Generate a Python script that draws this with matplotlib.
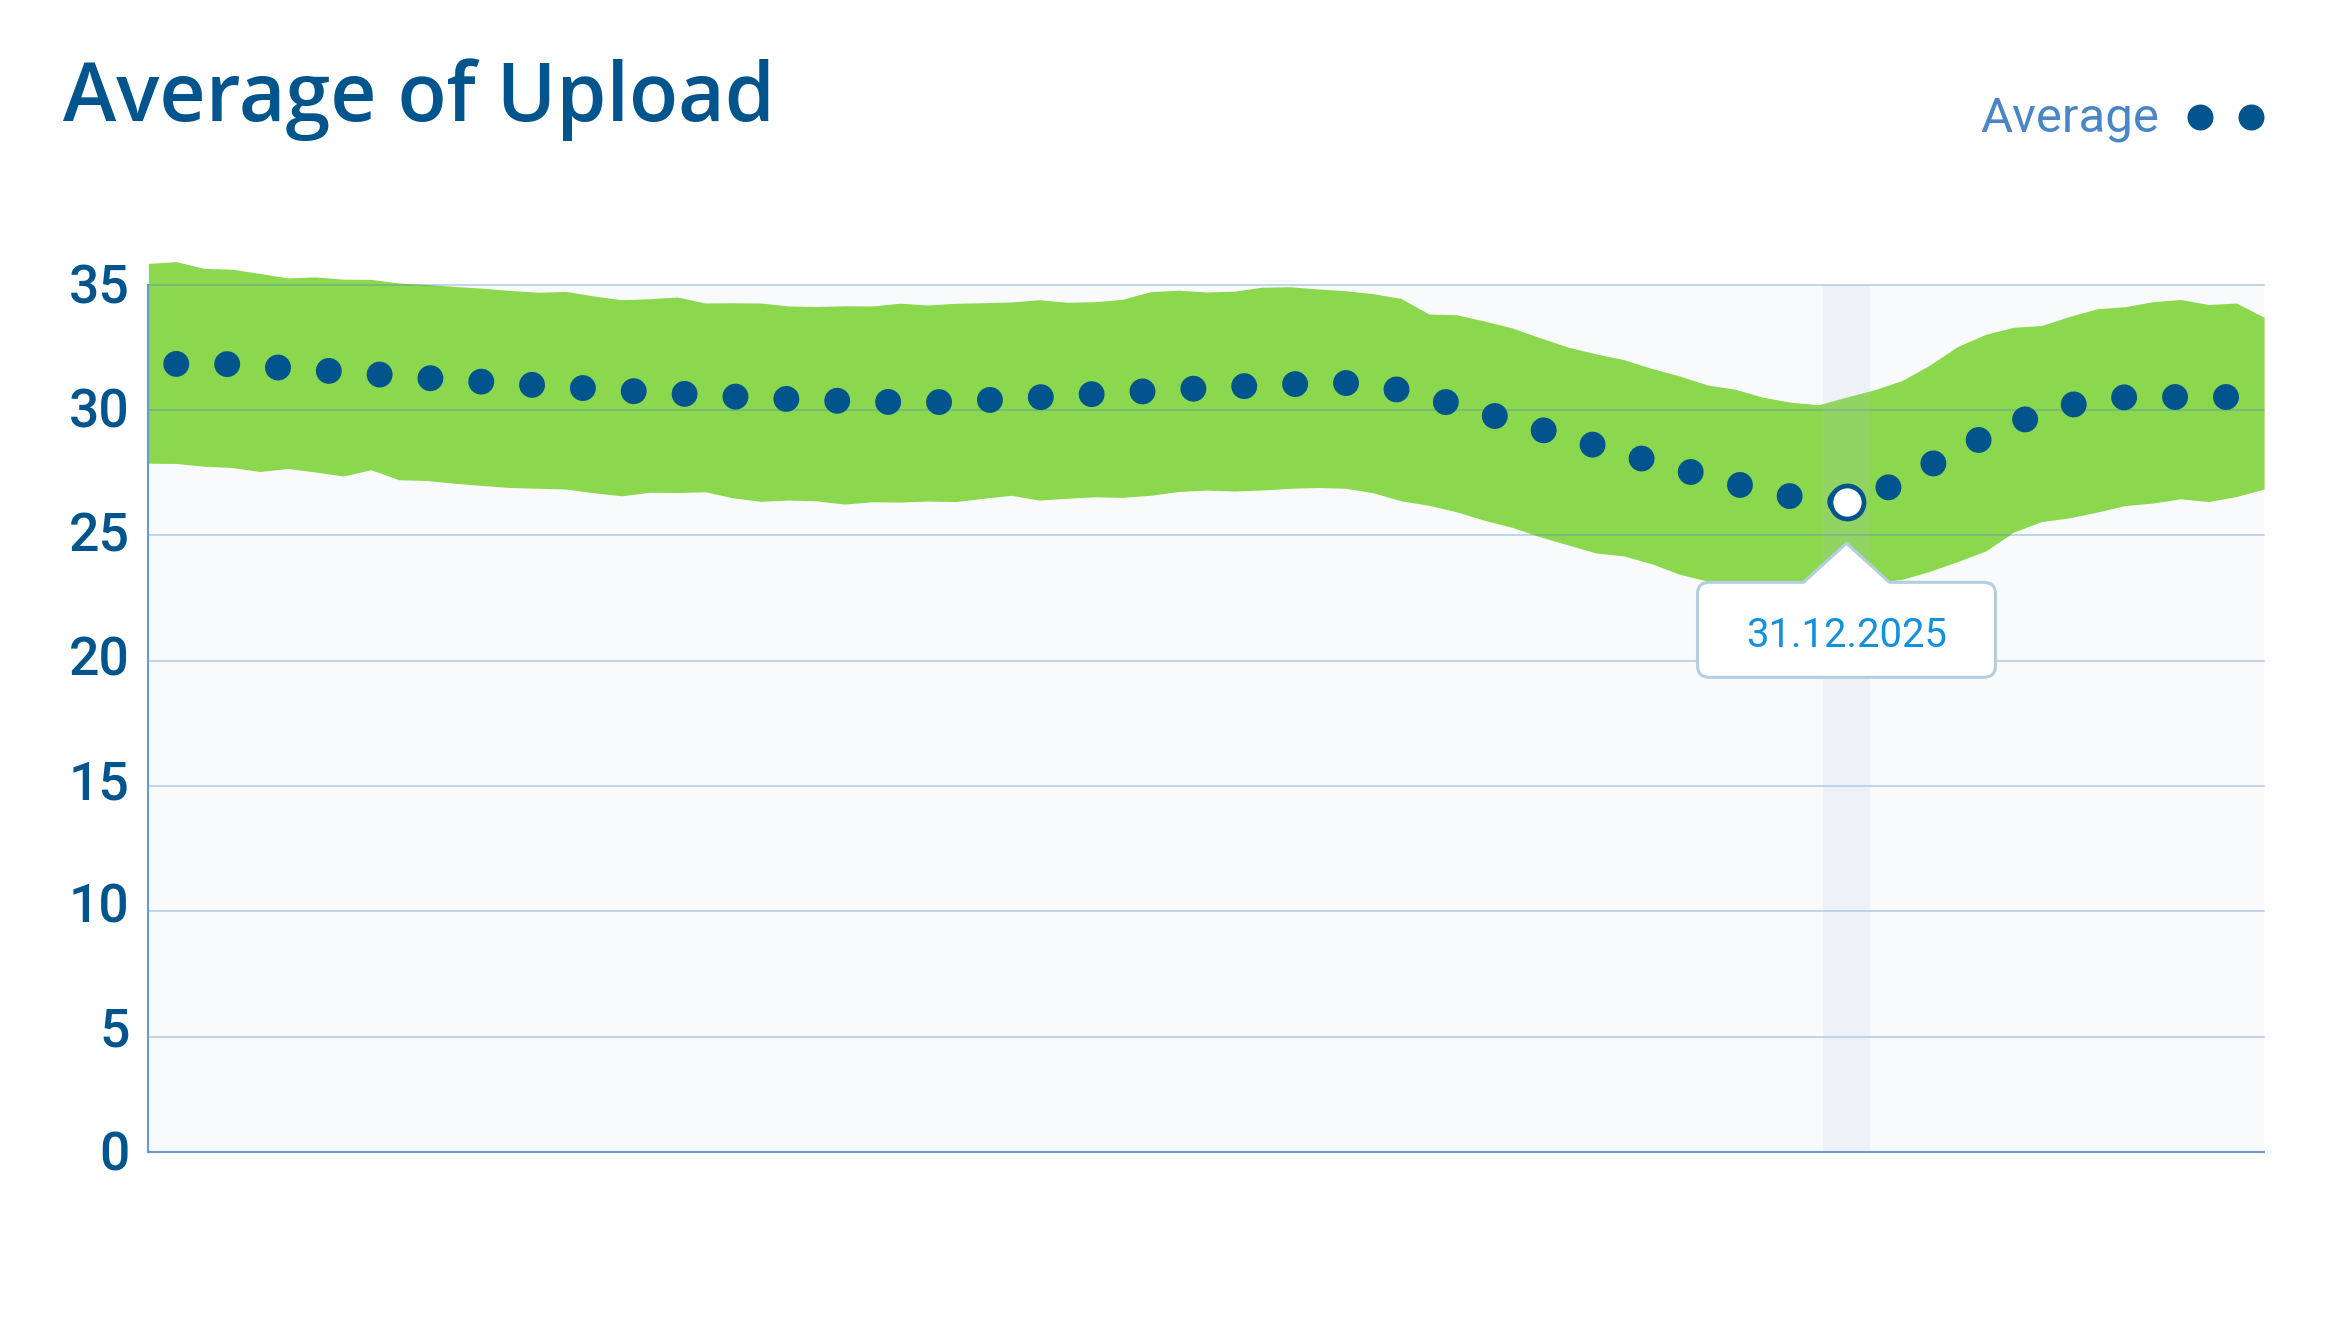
import numpy as np
import matplotlib
matplotlib.use("Agg")
import matplotlib.pyplot as plt
import matplotlib.dates as mdates
import matplotlib.transforms as mtransforms
from matplotlib.path import Path
from matplotlib.patches import PathPatch
from matplotlib.lines import Line2D

# ---------------- data ----------------
dates = np.arange(np.datetime64("2025-10-31"), np.datetime64("2026-01-16"), np.timedelta64(1, "D"))

upper = [35.85, 35.92, 35.65, 35.62, 35.45, 35.27, 35.31, 35.22, 35.21, 35.07,
         35.01, 34.93, 34.86, 34.77, 34.70, 34.73, 34.55, 34.40, 34.44, 34.51,
         34.27, 34.28, 34.27, 34.15, 34.13, 34.16, 34.15, 34.26, 34.19, 34.26,
         34.28, 34.31, 34.40, 34.30, 34.32, 34.42, 34.72, 34.78, 34.71, 34.74,
         34.90, 34.92, 34.83, 34.76, 34.64, 34.45, 33.83, 33.80, 33.55, 33.27,
         32.88, 32.51, 32.24, 32.01, 31.66, 31.36, 31.00, 30.83, 30.51, 30.31,
         30.21, 30.52, 30.81, 31.18, 31.80, 32.54, 33.02, 33.30, 33.37, 33.73,
         34.04, 34.12, 34.32, 34.41, 34.21, 34.27, 33.70]

lower = [27.88, 27.87, 27.76, 27.71, 27.55, 27.67, 27.53, 27.37, 27.62, 27.22,
         27.19, 27.08, 26.99, 26.91, 26.88, 26.85, 26.70, 26.58, 26.72, 26.71,
         26.74, 26.50, 26.36, 26.41, 26.38, 26.25, 26.34, 26.33, 26.37, 26.35,
         26.48, 26.60, 26.41, 26.48, 26.54, 26.52, 26.60, 26.75, 26.81, 26.77,
         26.81, 26.88, 26.91, 26.88, 26.70, 26.38, 26.20, 25.94, 25.60, 25.32,
         24.94, 24.62, 24.30, 24.18, 23.87, 23.45, 23.18, 23.03, 22.95, 22.95,
         23.00, 23.05, 23.10, 23.25, 23.57, 23.96, 24.38, 25.13, 25.55, 25.70,
         25.93, 26.19, 26.29, 26.46, 26.35, 26.55, 26.85]

average = [31.84, 31.84, 31.84, 31.83, 31.75, 31.67, 31.60, 31.52, 31.44, 31.36,
           31.28, 31.21, 31.13, 31.06, 30.99, 30.92, 30.85, 30.78, 30.72, 30.66,
           30.60, 30.54, 30.49, 30.44, 30.40, 30.36, 30.33, 30.32, 30.31, 30.33,
           30.39, 30.45, 30.51, 30.58, 30.64, 30.70, 30.76, 30.82, 30.88, 30.94,
           30.98, 31.03, 31.06, 31.08, 30.98, 30.79, 30.50, 30.20, 29.88, 29.56,
           29.23, 28.91, 28.58, 28.27, 27.95, 27.65, 27.35, 27.06, 26.79, 26.56,
           26.40, 26.32, 26.65, 27.18, 27.80, 28.39, 28.95, 29.46, 29.86, 30.19,
           30.40, 30.51, 30.52, 30.52, 30.52, 30.52, 30.52]

y_ticks = [0, 5, 10, 15, 20, 25, 30, 35]
y_tick_labels = ["0", "5", "10", "15", "20", "25", "30", "35"]
hover_date = np.datetime64("2025-12-31")
hover_label = "31.12.2025"
title_text = "Average of Upload"
legend_label = "Average"

# ---------------- style ----------------
DARK = "#02548C"
GREEN = "#8BD74E"
GRID = "#4A86C5"
LEG_TXT = "#4A86C5"
TIP_TXT = "#1590DB"
TIP_EDGE = "#B3CEDF"
BG = "#F8FAFC"
AXLINE = "#6A9AC8"

W, H, DPI = 2346, 1321, 100
fig = plt.figure(figsize=(W / DPI, H / DPI), dpi=DPI)
fig.patch.set_facecolor("white")

L, R, T, B = 148.3, 2264.1, 284.7, 1152.0
ax = fig.add_axes([L / W, 1 - B / H, (R - L) / W, (B - T) / H])
ax.set_facecolor(BG)
ax.set_xlim(dates[0], dates[-1])
ax.set_ylim(0.405, 35)
ax.set_xticks([])
ax.set_yticks([])
for s in ["top", "right"]:
    ax.spines[s].set_visible(False)
for s in ["left", "bottom"]:
    ax.spines[s].set_color(AXLINE)
    ax.spines[s].set_linewidth(1.5)
    ax.spines[s].set_zorder(4)

# band
ax.fill_between(dates, lower, upper, color=GREEN, lw=0, zorder=1, clip_on=False)

# grid lines (translucent, drawn over the band)
for v in y_ticks[1:]:
    ax.axhline(v, color=GRID, alpha=0.42, lw=1.1, zorder=2, clip_on=False)

# hover stripe
hx = mdates.date2num(hover_date)
ax.axvspan(hx - 0.83, hx + 0.83, color="#B8C8DE", alpha=0.15, lw=0, zorder=2.2)

# dotted average line
ax.plot(dates, average, color=DARK, lw=18.7,
        linestyle=(0.885, (0.001, 1.96)), dash_capstyle="round", zorder=3)

# highlighted point
hi = int(np.where(dates == hover_date)[0][0])
ax.plot([dates[hi]], [average[hi]], marker="o", ms=23.8, mfc="white",
        mec=DARK, mew=3.4, zorder=5, clip_on=False)

# tooltip (shape in pixel offsets from the highlighted point)
anchor = mtransforms.ScaledTranslation(hx, average[hi], ax.transData)
tip_tr = mtransforms.Affine2D() + anchor
Tt, Bb, Ww, r, ah, aw = -80, -175, 149, 12, -41, 43
verts = [(-Ww + r, Tt), (-aw, Tt), (0, ah), (aw, Tt), (Ww - r, Tt),
         (Ww, Tt), (Ww, Tt - r), (Ww, Bb + r), (Ww, Bb), (Ww - r, Bb),
         (-Ww + r, Bb), (-Ww, Bb), (-Ww, Bb + r), (-Ww, Tt - r),
         (-Ww, Tt), (-Ww + r, Tt), (-Ww + r, Tt)]
codes = [Path.MOVETO, Path.LINETO, Path.LINETO, Path.LINETO, Path.LINETO,
         Path.CURVE3, Path.CURVE3, Path.LINETO, Path.CURVE3, Path.CURVE3,
         Path.LINETO, Path.CURVE3, Path.CURVE3, Path.LINETO,
         Path.CURVE3, Path.CURVE3, Path.CLOSEPOLY]
tip = PathPatch(Path(verts, codes), facecolor="white", edgecolor=TIP_EDGE,
                lw=2.2, joinstyle="round", transform=tip_tr, zorder=6, clip_on=False)
ax.add_patch(tip)
ax.text(0, -129, hover_label, transform=tip_tr, ha="center", va="center_baseline",
        fontsize=28.8, family="Roboto", color=TIP_TXT, zorder=7, clip_on=False)

# y tick labels
lab_tr = mtransforms.blended_transform_factory(fig.transFigure, ax.transData) + \
    mtransforms.ScaledTranslation(0, -18.7 / DPI, fig.dpi_scale_trans)
for v, lab in zip(y_ticks, y_tick_labels):
    yc = 35 - (35 - v) * 0.9885
    ax.text(129.5 / W, yc, lab, transform=lab_tr, ha="right", va="baseline",
            fontsize=38.5, family="Roboto", fontweight="medium", color=DARK, clip_on=False)

# title
fig.text(63 / W, 1 - 120.7 / H, title_text, ha="left", va="baseline",
         fontsize=58, family="Open Sans", fontweight="semibold", color=DARK)

# legend
fig.text(1980 / W, 1 - 131 / H, legend_label, ha="left", va="baseline",
         fontsize=35.4, family="Roboto", color=LEG_TXT)
fig.add_artist(Line2D([2200 / W, 2250.7 / W], [1 - 117.3 / H, 1 - 117.3 / H],
                      transform=fig.transFigure, linestyle="none", marker="o",
                      ms=18.7, color=DARK, mec="none"))

fig.savefig("out.png", dpi=DPI, facecolor="white")
